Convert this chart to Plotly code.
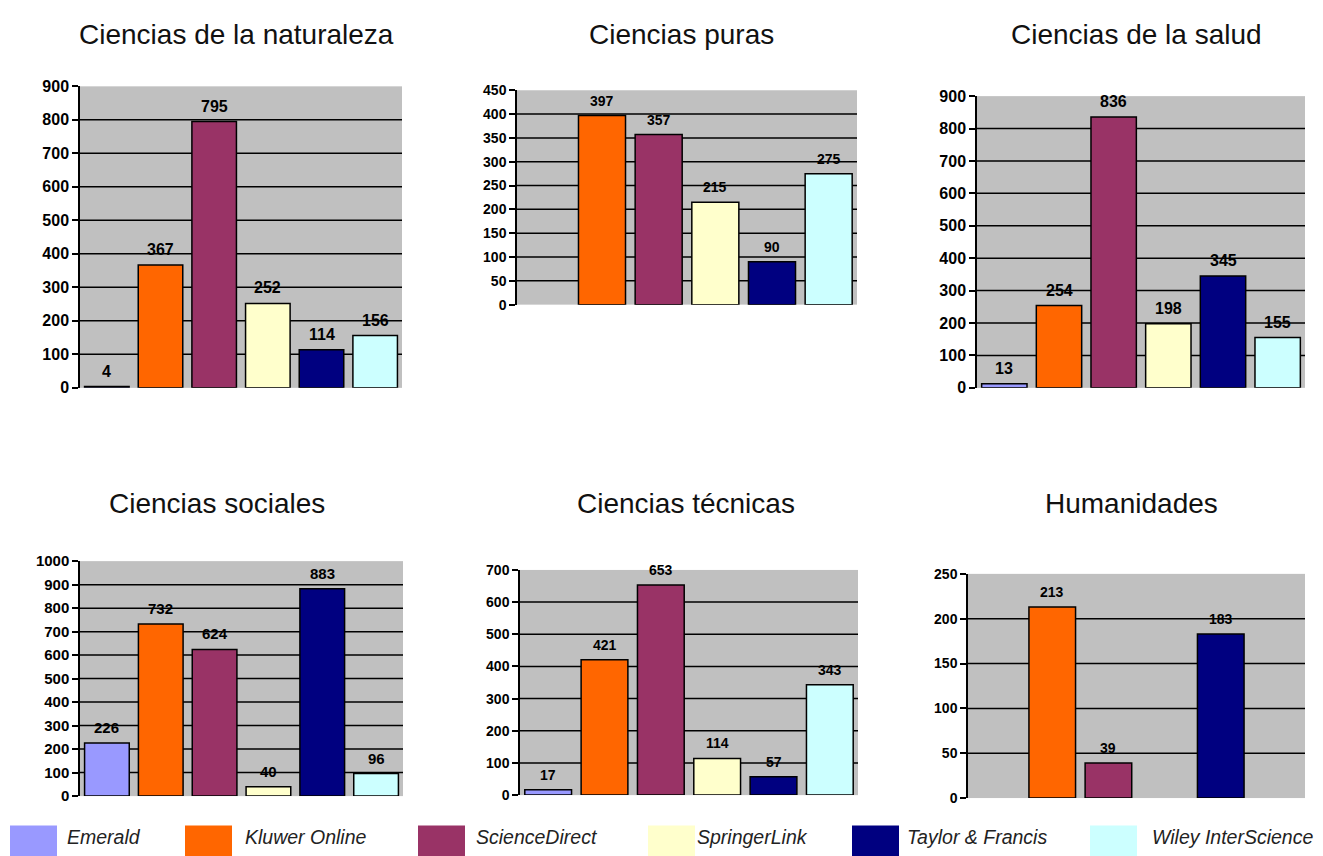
import plotly.graph_objects as go

# ---------------- data ----------------
categories = ["Emerald", "Kluwer Online", "ScienceDirect", "SpringerLink",
              "Taylor & Francis", "Wiley InterScience"]
colors = ["#9999ff", "#ff6600", "#993366", "#ffffcc", "#000080", "#ccffff"]

panel_titles = ["Ciencias de la naturaleza", "Ciencias puras", "Ciencias de la salud",
                "Ciencias sociales", "Ciencias técnicas", "Humanidades"]

naturaleza = [4, 367, 795, 252, 114, 156]
puras = [None, 397, 357, 215, 90, 275]
salud = [13, 254, 836, 198, 345, 155]
sociales = [226, 732, 624, 40, 883, 96]
tecnicas = [17, 421, 653, 114, 57, 343]
humanidades = [None, 213, 39, None, 183, None]

y_max = [900, 450, 900, 1000, 700, 250]
y_step = [100, 50, 100, 100, 100, 50]

series = [naturaleza, puras, salud, sociales, tecnicas, humanidades]

# ---------------- layout (pixels) ----------------
W, H = 1323, 856


def px(p):
    return p / W


def py(p):
    return 1 - p / H


# plot areas: (left, right, top, bottom) in pixels
areas = [(80, 402, 79, 387), (517, 857, 83, 302), (977, 1305, 89, 387),
         (80, 403, 564, 804), (520, 858, 573, 803), (968, 1305, 577, 806)]
title_pos = [(236, 26), (681, 26), (1136, 26), (217, 505), (686, 505), (1131, 505)]
tick_sizes = [16, 14, 16, 15, 14, 14]
label_sizes = [16, 14, 16, 15, 14, 14]
FONT = "Liberation Sans, Arial, sans-serif"

BG = "#c0c0c0"
fig = go.Figure()
annotations = []
shapes = []
layout = {}

for i, vals in enumerate(series):
    n = "" if i == 0 else str(i + 1)
    xa, ya = "x" + n, "y" + n
    fig.add_trace(go.Bar(
        x=categories, y=vals, xaxis=xa, yaxis=ya,
        marker=dict(color=colors, line=dict(color="black", width=1.5)),
        showlegend=False, hoverinfo="x+y"))
    l, r, t, b = areas[i]
    layout["xaxis" + n] = dict(
        domain=[px(l), px(r)], anchor=ya, showticklabels=False, showgrid=False,
        zeroline=False, showline=False, ticks="", fixedrange=True)
    layout["yaxis" + n] = dict(
        domain=[py(b), py(t)], anchor=xa, range=[0, y_max[i]],
        tickmode="linear", tick0=0, dtick=y_step[i], showgrid=False, zeroline=False,
        showline=True, linecolor="black", linewidth=1.5,
        ticks="outside", ticklen=6, tickwidth=1.5, tickcolor="black",
        tickfont=dict(family=FONT, size=tick_sizes[i], color="black", weight="bold"),
        fixedrange=True)
    # interior gridlines (none at the bottom or top edge)
    v = y_step[i]
    while v < y_max[i]:
        shapes.append(dict(type="line", xref=xa + " domain", yref=ya,
                           x0=0, x1=1, y0=v, y1=v, layer="below",
                           line=dict(color="black", width=1.5)))
        v += y_step[i]
    # value labels
    for c, val in zip(categories, vals):
        if val is None:
            continue
        annotations.append(dict(
            x=c, y=val, xref=xa, yref=ya, text=str(val), showarrow=False,
            yanchor="bottom", yshift=5,
            font=dict(family=FONT, size=label_sizes[i], color="black", weight="bold")))
    # panel title
    tx, ty = title_pos[i]
    annotations.append(dict(
        x=px(tx), y=py(ty), xref="paper", yref="paper", text=panel_titles[i],
        showarrow=False, xanchor="center", yanchor="middle",
        font=dict(family=FONT, size=28, color="#111111")))

# ---------------- custom legend ----------------
swatch_x = [10, 185, 418, 648, 852, 1090]
text_x = [65, 243, 474, 695, 905, 1150]
for c, col, sx, tx in zip(categories, colors, swatch_x, text_x):
    shapes.append(dict(type="rect", xref="paper", yref="paper",
                       x0=px(sx), x1=px(sx + 47), y0=py(870), y1=py(834),
                       fillcolor=col, line=dict(width=0), layer="above"))
    annotations.append(dict(
        x=px(tx), y=py(846), xref="paper", yref="paper", text="<i>" + c + "</i>",
        showarrow=False, xanchor="left", yanchor="middle",
        font=dict(family=FONT, size=19.5, color="#222222")))

fig.update_layout(
    width=W, height=H, margin=dict(l=0, r=0, t=0, b=0),
    paper_bgcolor="white", plot_bgcolor=BG, bargap=0.17,
    annotations=annotations, shapes=shapes, **layout)

fig.write_html("out.html", config={"displayModeBar": False},
               post_script="document.body.style.margin='0';"
                           "document.body.style.overflow='hidden';")
